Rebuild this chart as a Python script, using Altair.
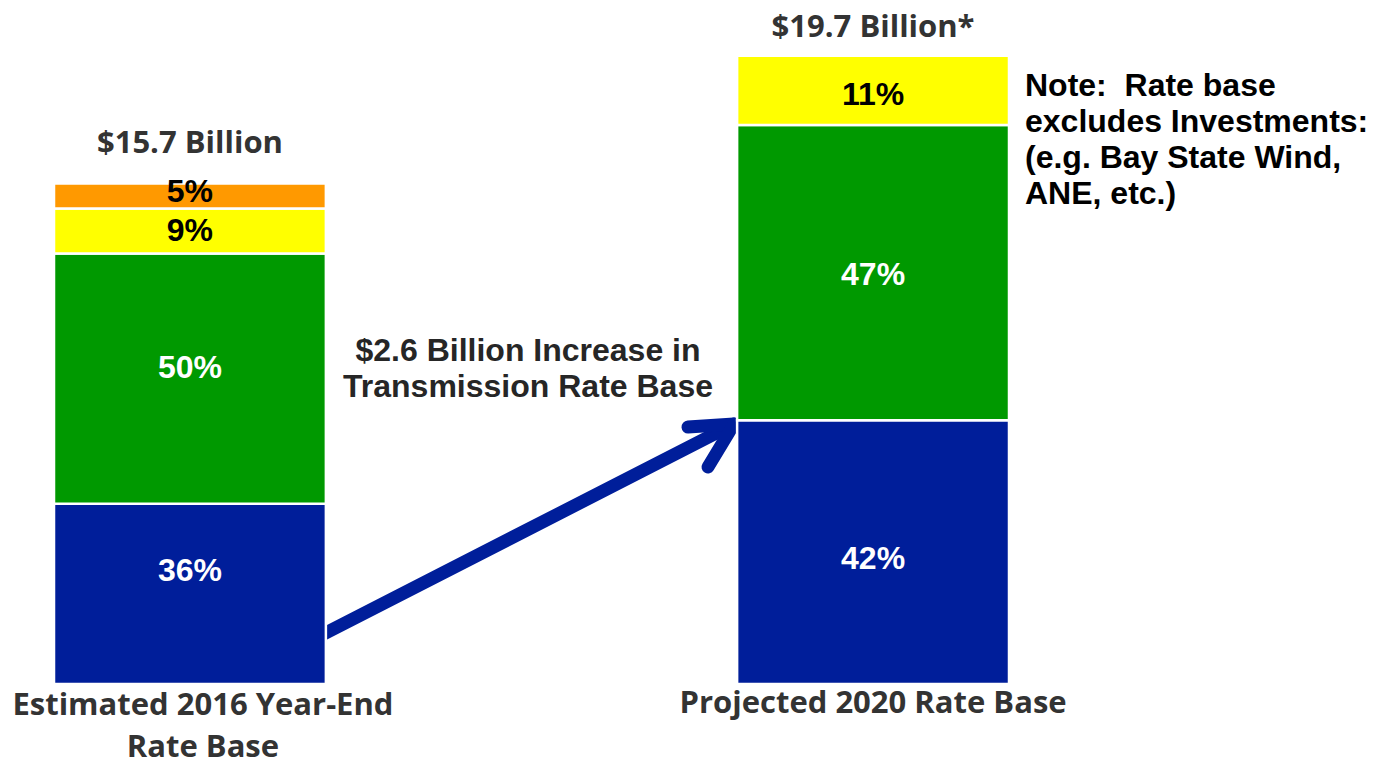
import altair as alt
import pandas as pd

# ---- data ----
categories = ["Estimated 2016 Year-End Rate Base", "Projected 2020 Rate Base"]
totals_billion = [15.7, 19.7]
total_labels = ["$15.7 Billion", "$19.7 Billion*"]
segments = ["Transmission", "Electric Distribution", "Natural Gas Distribution", "Generation"]
segment_colors = ["#001E9A", "#009900", "#FFFF00", "#FF9900"]
label_colors = ["#FFFFFF", "#FFFFFF", "#000000", "#000000"]
pct_2016 = [36, 50, 9, 5]
pct_2020 = [42, 47, 11, 0]

rows = []
for cat, tot, pcts in zip(categories, totals_billion, [pct_2016, pct_2020]):
    cum = 0.0
    for i, (seg, p) in enumerate(zip(segments, pcts)):
        if p == 0:
            continue
        v = tot * p / 100.0
        rows.append({
            "category": cat, "segment": seg, "order": i,
            "y0": cum, "y1": cum + v, "mid": cum + v / 2,
            "label": f"{p}%", "color": segment_colors[i], "lcolor": label_colors[i],
        })
        cum += v
seg_df = pd.DataFrame(rows)
tot_df = pd.DataFrame({"category": categories, "total": totals_billion, "label": total_labels})

# label nudges (style only), keyed by (category index, segment)
label_dy = {
    (0, "Transmission"): -23, (0, "Electric Distribution"): -11,
    (0, "Natural Gas Distribution"): 0, (0, "Generation"): -4,
    (1, "Transmission"): 7, (1, "Electric Distribution"): 2,
    (1, "Natural Gas Distribution"): 5,
}

OFF = 8  # top padding, all y pixel positions are shifted up by this
W, H = 1371, 756 - OFF
xscale = alt.Scale(domain=categories, range=[46, 1001], paddingInner=0.602, paddingOuter=0)
yscale = alt.Scale(domain=[0, 21.2], range=[676 - OFF, 0 - OFF], nice=False, zero=True)

x = alt.X("category:N", scale=xscale, axis=None)
SANS = "Open Sans"
ARIAL = "Liberation Sans"

bars = alt.Chart(seg_df).mark_bar(stroke="white", strokeWidth=2.5).encode(
    x=x,
    y=alt.Y("y0:Q", scale=yscale, axis=None),
    y2="y1:Q",
    color=alt.Color("color:N", scale=None),
)

pct_layers = []
for (ci, seg), dy in label_dy.items():
    pct_layers.append(
        alt.Chart(seg_df).transform_filter(
            (alt.datum.category == categories[ci]) & (alt.datum.segment == seg)
        ).mark_text(font=ARIAL, fontWeight="bold", fontSize=32, baseline="middle", dy=dy).encode(
            x=x,
            y=alt.Y("mid:Q", scale=yscale),
            text="label:N",
            color=alt.Color("lcolor:N", scale=None),
        )
    )

def only(ci):
    return alt.Chart(tot_df).transform_filter(alt.datum.category == categories[ci])

tot_left = only(0).mark_text(font=SANS, fontWeight="bold", fontSize=31, color="#333333",
                             baseline="alphabetic", dy=-30).encode(
    x=x, y=alt.Y("total:Q", scale=yscale), text="label:N")

tot_right = only(1).mark_text(font=SANS, fontWeight="bold", fontSize=31, color="#333333",
                              baseline="alphabetic", dy=-19).encode(
    x=x, y=alt.Y("total:Q", scale=yscale), text="label:N")

cat_left = only(0).mark_text(font=SANS, fontWeight="bold", fontSize=31, color="#333333",
                             baseline="alphabetic", lineHeight=42, dx=13).encode(
    x=x, y=alt.value(707 - OFF),
    text=alt.value(["Estimated 2016 Year-End", "Rate Base"]))

cat_right = only(1).mark_text(font=SANS, fontWeight="bold", fontSize=31, color="#333333",
                              baseline="alphabetic").encode(
    x=x, y=alt.value(705 - OFF), text=alt.value("Projected 2020 Rate Base"))

increase_text = only(0).mark_text(font=ARIAL, fontWeight="bold", fontSize=32, color="#262626",
                                  baseline="alphabetic", align="center", lineHeight=36).encode(
    x=alt.value(520), y=alt.value(353 - OFF),
    text=alt.value(["$2.6 Billion Increase in", "Transmission Rate Base"]))

note_text = only(1).mark_text(font=ARIAL, fontWeight="bold", fontSize=32, color="#000000",
                              baseline="alphabetic", align="left", lineHeight=36).encode(
    x=alt.value(1017), y=alt.value(88 - OFF),
    text=alt.value(["Note:\u00a0 Rate base", "excludes Investments:",
                    "(e.g. Bay State Wind,", "ANE, etc.)"]))

arrow_color = "#001E9A"
def arrow_part(x1, y1, x2, y2):
    return only(0).mark_rule(color=arrow_color, strokeWidth=13, strokeCap="round").encode(
        x=alt.value(x1), y=alt.value(y1 - OFF), x2=alt.value(x2), y2=alt.value(y2 - OFF))

shaft = arrow_part(300, 634, 724, 417)
head1 = arrow_part(726, 416, 680, 419)
head2 = arrow_part(726, 416, 700, 459)

chart = alt.layer(
    shaft, head1, head2, bars, *pct_layers, tot_left, tot_right, cat_left, cat_right,
    increase_text, note_text
).properties(
    width=W, height=H,
    padding={"top": OFF, "left": 0, "right": 0, "bottom": 0},
    autosize=alt.AutoSizeParams(type="none")
).configure_view(stroke=None)

chart.save("out.html", embed_options={"renderer": "svg", "actions": False})
